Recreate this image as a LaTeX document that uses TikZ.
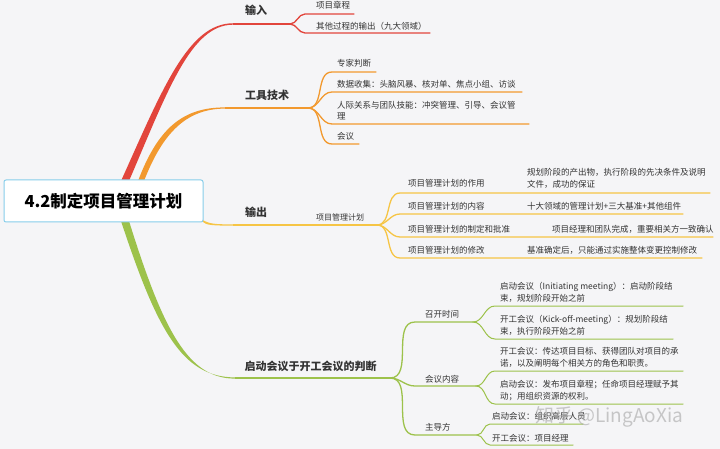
\documentclass[tikz,border=0pt]{standalone}
\usepackage{fontspec}
\setmainfont{Noto Sans CJK SC}
\definecolor{bgc}{HTML}{F5F5F7}
\definecolor{txt}{HTML}{333333}
\definecolor{rootc}{HTML}{86CDEA}
\definecolor{inred}{HTML}{E2453C}
\definecolor{toolor}{HTML}{F2992E}
\definecolor{outyel}{HTML}{F6C545}
\definecolor{meetgr}{HTML}{9DC24B}
\tikzset{
  leaf/.style={anchor=west, inner sep=0pt, text=txt, align=left,
    font=\fontsize{8.5}{11.5}\selectfont},
  brlabel/.style={inner sep=0pt, text=txt, font=\fontsize{11}{13}\selectfont\bfseries},
  subline/.style={line width=1.3pt, line cap=round},
  twig/.style={line width=1pt, line cap=round}
}
\begin{document}
\begin{tikzpicture}[x=1pt,y=-1pt]
\useasboundingbox[fill=bgc] (0,0) rectangle (720,449);

% main branches (tapered)
\fill[inred] (121,181) .. controls (162,90) and (188,23.2) .. (233,23.3) -- (233,24.7) .. controls (191,24.8) and (168,90) .. (129,181) -- cycle;
\fill[toolor] (138,181) .. controls (158,128) and (183,107.3) .. (225,107.4) -- (225,108.6) .. controls (187,108.7) and (163,132) .. (144,181) -- cycle;
\fill[outyel] (201,219) .. controls (209,224) and (214,224.3) .. (233,224.4) -- (233,225.6) .. controls (212,225.7) and (206,225) .. (203,222) -- cycle;
\fill[meetgr] (121,221) .. controls (157,330) and (182,377.3) .. (235,377.4) -- (235,378.6) .. controls (188,378.7) and (163,330) .. (129,221) -- cycle;

% root
\node[draw=rootc, fill=white, rounded corners=2pt, line width=1pt,
  minimum width=199pt, minimum height=42pt, text=black,
  font=\fontsize{16.5}{18}\selectfont\bfseries] (root) at (103.5,201) {4.2制定项目管理计划};

% branch points
\coordinate (inK) at (290,24);
\coordinate (toolK) at (308,108);
\coordinate (outK) at (377,225);
\coordinate (meetK) at (390,378);
\coordinate (timeK) at (473,322);
\coordinate (contK) at (476,386);
\coordinate (leadK) at (477,435);

\draw[inred, line width=1.4pt] (233,24) -- (inK);
\draw[toolor, line width=1.4pt] (225,108) -- (toolK);
\draw[outyel, line width=1.4pt] (233,225) -- (outK);
\draw[meetgr, line width=1.4pt] (235,378) -- (meetK);

% branch labels
\node[brlabel] (inL) at (256,10) {输入};
\node[brlabel] (toolL) at (267,95) {工具技术};
\node[brlabel] (outL) at (256,212) {输出};
\node[brlabel] (meetL) at (310.5,366) {启动会议于开工会议的判断};
\node[leaf, font=\fontsize{8}{10}\selectfont] (planL) at (316,217) {项目管理计划};

% 输入
\node[leaf] (in1) at (316,5) {项目章程};
\node[leaf] (in2) at (316,26) {其他过程的输出（九大领域）};
\draw[inred, subline] (inK) to[out=0, in=180] (305,14) -- (354,14);
\draw[inred, subline] (inK) to[out=0, in=180] (305,33) -- (430,33);

% 工具技术
\node[leaf] (tool1) at (337,63) {专家判断};
\node[leaf] (tool2) at (337,84) {数据收集：头脑风暴、核对单、焦点小组、访谈};
\node[leaf] (tool3) at (337,110.5) {人际关系与团队技能：冲突管理、引导、会议管\\理};
\node[leaf] (tool4) at (337,136) {会议};
\draw[toolor, subline] (toolK) to[out=0, in=180] (332,72) -- (376,72);
\draw[toolor, subline] (toolK) to[out=0, in=180] (332,92) -- (522,92);
\draw[toolor, subline] (toolK) to[out=0, in=180] (332,124) -- (529,124);
\draw[toolor, subline] (toolK) to[out=0, in=180] (332,144) -- (359,144);

% 输出
\node[leaf] (out1) at (408,183) {项目管理计划的作用};
\node[leaf] (out2) at (408,206) {项目管理计划的内容};
\node[leaf] (out3) at (408,229) {项目管理计划的制定和批准};
\node[leaf] (out4) at (408,250) {项目管理计划的修改};
\node[leaf] (out1a) at (527,178.5) {规划阶段的产出物，执行阶段的先决条件及说明\\文件，成功的保证};
\node[leaf] (out2a) at (527,206) {十大领域的管理计划+三大基准+其他组件};
\node[leaf] (out3a) at (552,229) {项目经理和团队完成，重要相关方一致确认};
\node[leaf] (out4a) at (527,250) {基准确定后，只能通过实施整体变更控制修改};
\draw[outyel, subline] (outK) to[out=0, in=180] (400,193) -- (710,193);
\draw[outyel, subline] (outK) to[out=0, in=180] (400,214) -- (683,214);
\draw[outyel, subline] (outK) to[out=0, in=180] (400,237) -- (713,237);
\draw[outyel, subline] (outK) to[out=0, in=180] (400,258) -- (702,258);

% 启动会议于开工会议的判断
\node[leaf] (time) at (425,314) {召开时间};
\node[leaf] (cont) at (425,379) {会议内容};
\node[leaf] (lead) at (425,427) {主导方};
\draw[meetgr, subline] (meetK) to[out=0, in=180] (415,322) -- (timeK);
\draw[meetgr, subline] (meetK) to[out=0, in=180] (415,386) -- (contK);
\draw[meetgr, subline] (meetK) to[out=0, in=180] (415,435) -- (leadK);

\node[leaf] (time1) at (500,292.5) {启动会议（Initiating meeting）：启动阶段结\\束，规划阶段开始之前};
\node[leaf] (time2) at (500,325.5) {开工会议（Kick-off-meeting）：规划阶段结\\束，执行阶段开始之前};
\draw[meetgr, twig] (timeK) to[out=0, in=180] (495,306) -- (683,306);
\draw[meetgr, twig] (timeK) to[out=0, in=180] (495,339) -- (673,339);

\node[leaf] (cont1) at (500,357.5) {开工会议：传达项目目标、获得团队对项目的承\\诺，以及阐明每个相关方的角色和职责。};
\node[leaf] (cont2) at (500,390.5) {启动会议：发布项目章程；任命项目经理赋予其\\动；用组织资源的权利。};
\draw[meetgr, twig] (contK) to[out=0, in=180] (495,371) -- (683,371);
\draw[meetgr, twig] (contK) to[out=0, in=180] (495,404) -- (683,404);

\node[leaf] (lead1) at (492,416) {启动会议：组织高层人员};
\node[leaf] (lead2) at (492,438) {开工会议：项目经理};
\draw[meetgr, twig] (leadK) to[out=0, in=180] (490,424) -- (583,424);
\draw[meetgr, twig] (leadK) to[out=0, in=180] (490,445) -- (573,445);

% watermark
\node[anchor=west, inner sep=0pt, text=gray!70, opacity=0.6,
  font=\fontsize{19}{20}\selectfont] (mark) at (535,417) {知乎 @LingAoXia};
\end{tikzpicture}
\end{document}
